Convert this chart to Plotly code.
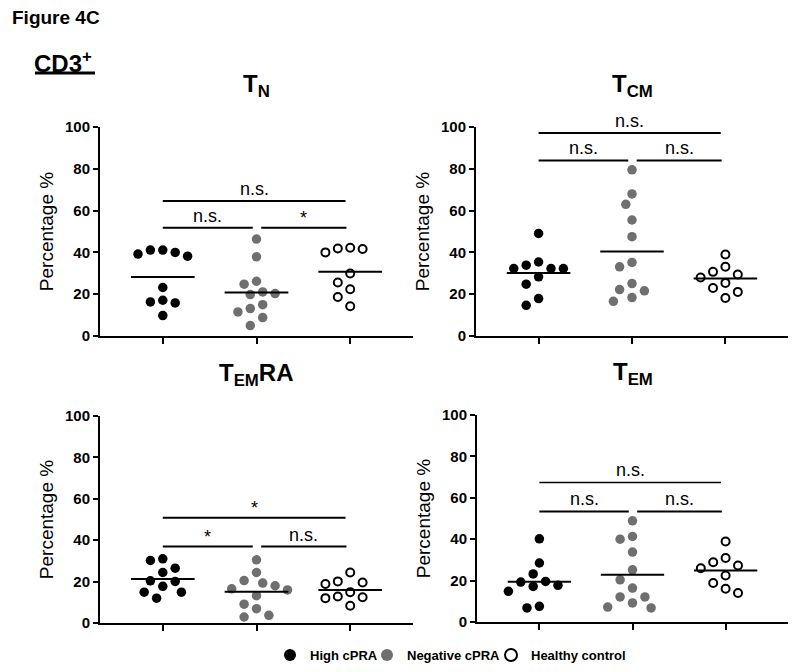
import plotly.graph_objects as go

# ---------------- data ----------------
groups = ["High cPRA", "Negative cPRA", "Healthy control"]
panel_titles = ["<b>T<sub>N</sub></b>", "<b>T<sub>CM</sub></b>",
                "<b>T<sub>EM</sub>RA</b>", "<b>T<sub>EM</sub></b>"]

tn_high = [41.1, 39.2, 38.2, 40.0, 41.1, 23.2, 17.1, 15.8, 16.3, 9.8]
tn_neg = [46.4, 37.9, 26.2, 21.1, 19.8, 20.3, 24.8, 13.1, 11.5, 15.0, 8.8, 5.0]
tn_hc = [42.2, 41.6, 40.0, 41.9, 29.9, 25.6, 18.7, 22.4, 14.2]

tcm_high = [35.4, 32.3, 32.3, 32.3, 33.9, 49.1, 28.3, 24.8, 17.9, 14.7]
tcm_neg = [79.5, 68.0, 63.0, 55.5, 47.5, 33.1, 35.2, 25.1, 21.6, 22.2, 16.6, 18.4]
tcm_hc = [39.0, 33.1, 30.7, 28.0, 29.4, 23.0, 25.4, 21.1, 18.2]

temra_high = [31.0, 30.2, 26.5, 24.4, 20.4, 20.1, 17.7, 14.9, 14.9, 12.0]
temra_neg = [30.5, 24.4, 19.3, 20.5, 18.0, 16.0, 13.2, 16.5, 9.1, 6.9, 3.7, 2.9]
temra_hc = [24.4, 20.1, 18.8, 19.6, 14.9, 12.4, 12.0, 12.8, 8.3]

tem_high = [40.2, 28.5, 23.2, 19.3, 17.2, 17.7, 19.6, 14.8, 6.8, 7.6]
tem_neg = [48.9, 40.0, 41.3, 33.8, 25.2, 20.4, 16.4, 12.1, 12.1, 9.2, 6.8, 7.2]
tem_hc = [38.9, 30.9, 28.9, 27.3, 26.0, 22.5, 18.8, 14.0, 16.1]

panel_data = [
    [tn_high, tn_neg, tn_hc],
    [tcm_high, tcm_neg, tcm_hc],
    [temra_high, temra_neg, temra_hc],
    [tem_high, tem_neg, tem_hc],
]

# significance comparisons: (group a, group b, bar height %, label)
sig_tn = [(0, 1, 51.8, "n.s."), (1, 2, 51.8, "*"), (0, 2, 64.6, "n.s.")]
sig_tcm = [(0, 1, 84.0, "n.s."), (1, 2, 84.0, "n.s."), (0, 2, 97.1, "n.s.")]
sig_temra = [(0, 1, 36.9, "*"), (1, 2, 36.9, "n.s."), (0, 2, 50.9, "*")]
sig_tem = [(0, 1, 53.4, "n.s."), (1, 2, 53.4, "n.s."), (0, 2, 67.4, "n.s.")]
panel_sig = [sig_tn, sig_tcm, sig_temra, sig_tem]

y_ticks = [0, 20, 40, 60, 80, 100]

# ---------------- layout geometry (page pixels) ----------------
OFF = 8                      # default body margin of the html page
W, H = 800 - OFF, 672 - OFF  # figure size
FONT = "Arial, Liberation Sans, sans-serif"


def px(xp):
    return (xp - OFF) / W


def py(yp):
    return 1 - (yp - OFF) / H


# (x left, x right, y top(100), y bottom(0)) in page pixels
boxes = [(100, 413, 127, 336), (476, 788, 127, 336),
         (100, 413, 416, 623), (477, 788, 415, 622)]
XR = [-0.67, 2.67]

colors = ["#000000", "#6f6f6f", "#ffffff"]
line_cols = ["#000000", "#6f6f6f", "#000000"]
line_w = [0, 0, 2]
msize = [9.5, 9.5, 8]
legend_ids = ["legend", "legend2", "legend3"]
legend_x_page = [270, 367, 491]


def swarm(vals, px_x, px_y, dmin=12.0, step=6.2):
    """simple beeswarm: horizontal offsets (in axis units) avoiding overlap"""
    order = sorted(range(len(vals)), key=lambda i: -vals[i])
    placed = []
    offs = [0.0] * len(vals)
    cands = [0.0]
    for m in range(1, 30):
        cands += [-m * step, m * step]
    for i in order:
        yp = vals[i] * px_y
        for c in cands:
            if all((c - a) ** 2 + (yp - b) ** 2 >= dmin ** 2 for a, b in placed):
                break
        placed.append((c, yp))
        offs[i] = c / px_x
    return offs


fig = go.Figure()
shapes = []
annotations = []

for p in range(4):
    xl, xr, yt, yb = boxes[p]
    ax = "" if p == 0 else str(p + 1)
    xa, ya = "x" + ax, "y" + ax
    px_x = (xr - xl) / (XR[1] - XR[0])
    px_y = (yb - yt) / 100.0
    for g in range(3):
        vals = panel_data[p][g]
        offs = swarm(vals, px_x, px_y)
        fig.add_trace(go.Scatter(
            x=[g + o for o in offs], y=vals, mode="markers",
            name=groups[g], legend=legend_ids[g], showlegend=(p == 0),
            xaxis=xa, yaxis=ya, cliponaxis=False,
            marker=dict(size=msize[g], color=colors[g], symbol="circle",
                        line=dict(color=line_cols[g], width=line_w[g])),
        ))
        mean = sum(vals) / len(vals)
        fig.add_trace(go.Scatter(
            x=[g - 0.34, g + 0.34], y=[mean, mean], mode="lines",
            showlegend=False, xaxis=xa, yaxis=ya, cliponaxis=False,
            line=dict(color="black", width=2), hoverinfo="skip",
        ))
    for (a, b, yv, lab) in panel_sig[p]:
        if b - a == 1:
            x0 = a + (0.05 if a == 1 else 0.0)
            x1 = b - 0.04
        else:
            x0, x1 = a, b - 0.05
        wide_thin = (p == 3 and b - a == 2)
        shapes.append(dict(type="line", xref=xa, yref=ya, x0=x0, x1=x1,
                           y0=yv, y1=yv,
                           line=dict(color="black", width=1.3 if wide_thin else 2)))
        annotations.append(dict(
            xref=xa, yref=ya, x=(x0 + x1) / 2, y=yv, text=lab,
            showarrow=False, yanchor="bottom", yshift=(-2 if lab == "*" else 0),
            font=dict(family=FONT, size=18, color="black")))
    # panel title, centred over the middle group
    annotations.append(dict(
        xref=xa, yref="paper", x=1, y=py(yt - 24), text=panel_titles[p],
        showarrow=False, xanchor="center", yanchor="bottom",
        font=dict(family=FONT, size=24, color="black")))

    fig.update_layout(**{
        "xaxis" + ax: dict(domain=[px(xl), px(xr)], range=XR, anchor=ya,
                           automargin=False,
                           showgrid=False, zeroline=False, showline=True,
                           linecolor="black", linewidth=2,
                           tickvals=[0, 1, 2], ticks="outside", ticklen=6,
                           tickwidth=2, tickcolor="black", showticklabels=False,
                           fixedrange=True),
        "yaxis" + ax: dict(domain=[py(yb), py(yt)], range=[0, 100],
                           anchor=xa, automargin=False,
                           showgrid=False, zeroline=False,
                           showline=True, linecolor="black", linewidth=2,
                           tickvals=y_ticks, ticks="outside", ticklen=5,
                           tickwidth=2, tickcolor="black",
                           tickfont=dict(family=FONT, size=15, color="black",
                                         weight="bold"),
                           title=dict(text="Percentage %", standoff=6,
                                      font=dict(family=FONT, size=19,
                                                color="black")),
                           fixedrange=True),
    })

# figure labels
annotations.append(dict(xref="paper", yref="paper", x=px(10), y=py(5),
                        text="<b>Figure 4C</b>", showarrow=False,
                        xanchor="left", yanchor="top",
                        font=dict(family=FONT, size=19, color="black")))
annotations.append(dict(xref="paper", yref="paper", x=px(32), y=py(45),
                        text="<b>CD3<sup>+</sup></b>", showarrow=False,
                        xanchor="left", yanchor="top",
                        font=dict(family=FONT, size=24, color="black")))
shapes.append(dict(type="line", xref="paper", yref="paper",
                   x0=px(35), x1=px(95), y0=py(73), y1=py(73),
                   line=dict(color="black", width=3)))

legend_common = dict(orientation="h", xanchor="left", y=py(655),
                     yanchor="middle", itemsizing="constant",
                     bgcolor="rgba(0,0,0,0)",
                     font=dict(family=FONT, size=13, color="black",
                               weight="bold"))
fig.update_layout(
    width=W, height=H, margin=dict(l=0, r=0, t=0, b=0, autoexpand=False),
    paper_bgcolor="white", plot_bgcolor="white",
    shapes=shapes, annotations=annotations,
    legend=dict(x=px(legend_x_page[0]), **legend_common),
    legend2=dict(x=px(legend_x_page[1]), **legend_common),
    legend3=dict(x=px(legend_x_page[2]), **legend_common),
)

fig.write_html("out.html")
